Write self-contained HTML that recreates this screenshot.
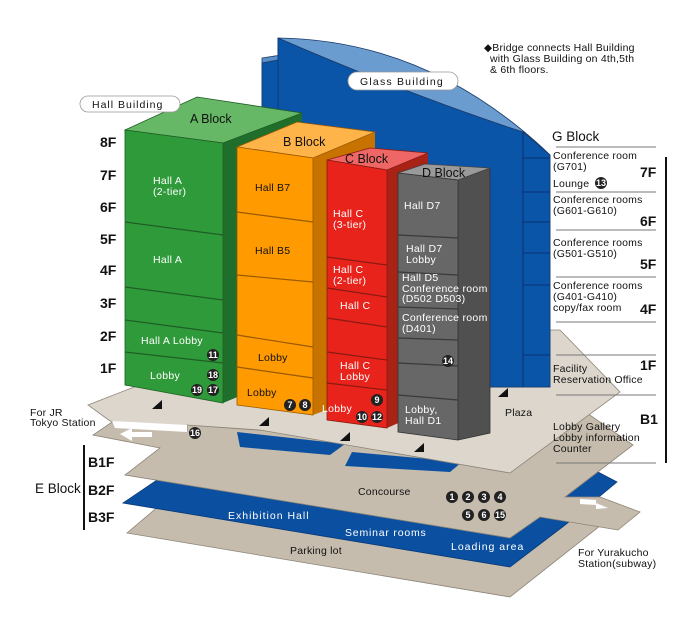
<!DOCTYPE html>
<html><head><meta charset="utf-8"><style>
html,body{margin:0;padding:0;background:#fff;}
svg{display:block;font-family:"Liberation Sans",sans-serif;}
.w{fill:#fff;font-size:10.5px;letter-spacing:0.3px}
.k{fill:#111;font-size:10.5px;letter-spacing:0.2px}
.f{fill:#111;font-size:14px;font-weight:bold}
.bl{fill:#111;font-size:13px}
.c{fill:#222}
.ct{fill:#fff;font-size:9px;font-weight:bold;text-anchor:middle}
</style></head><body>
<svg width="700" height="618" viewBox="0 0 700 618" xmlns="http://www.w3.org/2000/svg">
<!-- basement layers -->
<polygon points="127,533 160,505 600,505 605,522 510,597" fill="#c6bcae" stroke="#8c8476" stroke-width="0.8"/>
<polygon points="123,503 160,478 598,472 617,482 565,525 510,567" fill="#0b50a0" stroke="#083a78" stroke-width="0.8"/>
<polygon points="115,420 187,425 400,440 587,413 633,445 565,497 600,497 640,512 618,530 540,517 510,538 125,475 160,448 93,435" fill="#c6bcae" stroke="#8c8476" stroke-width="0.8"/>
<polygon points="237,432 345,444 330,455 240,447" fill="#0b50a0"/>
<polygon points="352,452 462,462 450,472 345,466" fill="#0b50a0"/>
<!-- plaza -->
<polygon points="88,405 280,330 560,330 620,392 510,473 260,430 187,425 187,431 110,421" fill="#dcd6cc" stroke="#8c8476" stroke-width="0.8"/>
<polygon points="112,421 187,425 187,432 115,428" fill="#fff"/>
<!-- arrows -->
<polygon points="120,434 132,428 132,432 152,432 152,437 132,437 132,441" fill="#fff"/>
<polygon points="608,508 596,503 596,500 580,499 580,504 596,505 596,509" fill="#fff"/>
<!-- glass building -->
<path d="M262,58 Q420,30 550,155 L550,387 L262,387 Z" fill="#5a8fc8" stroke="#1a3a6a" stroke-width="0.8"/>
<path d="M278,38 Q410,95 523,132 L550,155 L550,387 L262,387 L262,63 L278,60 Z" fill="#0b55a8" stroke="#1a3a6a" stroke-width="0.8"/>
<path d="M278,38 Q430,40 550,155 L523,132 Q410,95 278,38 Z" fill="#6a9cd0" stroke="#1a3a6a" stroke-width="0.8"/>
<line x1="278" y1="38" x2="278" y2="387" stroke="#0a3a80" stroke-width="1"/>
<line x1="523" y1="132" x2="523" y2="387" stroke="#0a3070" stroke-width="1"/>
<g stroke="#0a3070" stroke-width="1">
<line x1="523" y1="158" x2="550" y2="158"/><line x1="523" y1="192" x2="550" y2="192"/>
<line x1="523" y1="222" x2="550" y2="222"/><line x1="523" y1="253" x2="550" y2="253"/>
<line x1="523" y1="285" x2="550" y2="285"/><line x1="523" y1="355" x2="550" y2="355"/>
</g>
<rect x="348" y="72" width="110" height="18" rx="9" fill="#fff" stroke="#999" stroke-width="0.8"/>
<text x="360" y="85" class="k" style="letter-spacing:1.2px">Glass Building</text>
<!-- A block -->
<polygon points="223,143 302,113 302,370 223,403" fill="#1f6e2b"/>
<polygon points="125,130 197,97 302,113 223,143" fill="#66b866" stroke="#1f5e25" stroke-width="0.8"/>
<polygon points="125,130 223,143 223,403 125,385" fill="#2f9a3a" stroke="#1f5e25" stroke-width="0.8"/>
<g stroke="#1f5e25" stroke-width="1.2">
<line x1="125" y1="222" x2="223" y2="235"/><line x1="125" y1="287" x2="223" y2="300"/>
<line x1="125" y1="320" x2="223" y2="333"/><line x1="125" y1="352" x2="223" y2="363"/>
</g>
<text x="190" y="123" class="bl" style="font-size:12.5px">A Block</text>
<rect x="80" y="96" width="100" height="16" rx="8" fill="#fff" stroke="#999" stroke-width="0.8"/>
<text x="92" y="108" class="k" style="letter-spacing:1px">Hall Building</text>
<text x="153" y="184" class="w">Hall A</text><text x="153" y="195" class="w">(2-tier)</text>
<text x="153" y="263" class="w">Hall A</text>
<text x="141" y="344" class="w">Hall A Lobby</text>
<text x="150" y="379" class="w">Lobby</text>
<!-- B block -->
<polygon points="313,158 375,132 375,392 313,415" fill="#c87300"/>
<polygon points="237,147 297,122 375,132 313,158" fill="#ffb44a" stroke="#9a5a00" stroke-width="0.8"/>
<polygon points="237,147 313,158 313,415 237,405" fill="#ff9a00" stroke="#9a5a00" stroke-width="0.8"/>
<g stroke="#9a5a00" stroke-width="1.2">
<line x1="237" y1="212" x2="313" y2="222"/><line x1="237" y1="275" x2="313" y2="282"/>
<line x1="237" y1="335" x2="313" y2="347"/><line x1="237" y1="367" x2="313" y2="378"/>
</g>
<text x="283" y="146" class="bl" style="font-size:12.5px">B Block</text>
<text x="255" y="191" class="k">Hall B7</text>
<text x="255" y="254" class="k">Hall B5</text>
<text x="258" y="361" class="k">Lobby</text>
<text x="247" y="396" class="k">Lobby</text>
<!-- C block -->
<polygon points="387,170 428,153 428,410 387,428" fill="#a82216"/>
<polygon points="327,160 370,148 428,153 387,170" fill="#ee6666" stroke="#8a1a10" stroke-width="0.8"/>
<polygon points="327,160 387,170 387,428 327,420" fill="#e8231c" stroke="#8a1a10" stroke-width="0.8"/>
<g stroke="#8a1a10" stroke-width="1.2">
<line x1="327" y1="257" x2="387" y2="265"/><line x1="327" y1="288" x2="387" y2="297"/>
<line x1="327" y1="318" x2="387" y2="327"/><line x1="327" y1="352" x2="387" y2="360"/>
<line x1="327" y1="383" x2="387" y2="390"/>
</g>
<text x="345" y="163" class="bl" style="font-size:12.5px">C Block</text>
<text x="333" y="217" class="w">Hall C</text><text x="333" y="228" class="w">(3-tier)</text>
<text x="333" y="273" class="w">Hall C</text><text x="333" y="284" class="w">(2-tier)</text>
<text x="340" y="309" class="w">Hall C</text>
<text x="340" y="369" class="w">Hall C</text><text x="340" y="380" class="w">Lobby</text>
<text x="322" y="412" class="w">Lobby</text>
<!-- D block -->
<polygon points="458,180 490,168 490,433 458,440" fill="#505050" stroke="#333" stroke-width="0.8"/>
<polygon points="398,173 425,164 490,168 458,180" fill="#9a9a9a" stroke="#444" stroke-width="0.8"/>
<polygon points="398,173 458,180 458,440 398,432" fill="#676767" stroke="#333" stroke-width="0.8"/>
<g stroke="#3a3a3a" stroke-width="1.2">
<line x1="398" y1="235" x2="458" y2="238"/><line x1="398" y1="272" x2="458" y2="275"/>
<line x1="398" y1="307" x2="458" y2="309"/><line x1="398" y1="338" x2="458" y2="340"/>
<line x1="398" y1="363" x2="458" y2="366"/><line x1="398" y1="395" x2="458" y2="400"/>
</g>
<text x="422" y="177" class="bl" style="font-size:12.5px">D Block</text>
<text x="404" y="209" class="w">Hall D7</text>
<text x="406" y="252" class="w">Hall D7</text><text x="406" y="263" class="w">Lobby</text>
<text x="402" y="281" class="w">Hall D5</text>
<text x="402" y="292" class="w">Conference room</text>
<text x="402" y="302" class="w">(D502 D503)</text>
<text x="402" y="321" class="w">Conference room</text>
<text x="402" y="332" class="w">(D401)</text>
<text x="405" y="413" class="w">Lobby,</text><text x="405" y="424" class="w">Hall D1</text>
<!-- circles -->
<g>
<circle cx="213" cy="355" r="6" class="c"/><text x="213" y="358" class="ct">11</text>
<circle cx="213" cy="375" r="6" class="c"/><text x="213" y="378" class="ct">18</text>
<circle cx="197" cy="390" r="6" class="c"/><text x="197" y="393" class="ct">19</text>
<circle cx="213" cy="390" r="6" class="c"/><text x="213" y="393" class="ct">17</text>
<circle cx="290" cy="405" r="6" class="c"/><text x="290" y="408" class="ct">7</text>
<circle cx="305" cy="405" r="6" class="c"/><text x="305" y="408" class="ct">8</text>
<circle cx="377" cy="400" r="6" class="c"/><text x="377" y="403" class="ct">9</text>
<circle cx="362" cy="417" r="6" class="c"/><text x="362" y="420" class="ct">10</text>
<circle cx="377" cy="417" r="6" class="c"/><text x="377" y="420" class="ct">12</text>
<circle cx="448" cy="361" r="6" class="c"/><text x="448" y="364" class="ct">14</text>
<circle cx="195" cy="433" r="6" class="c"/><text x="195" y="436" class="ct">16</text>
<circle cx="601" cy="183" r="6" class="c"/><text x="601" y="186" class="ct">13</text>
<circle cx="452" cy="497" r="6" class="c"/><text x="452" y="500" class="ct">1</text>
<circle cx="468" cy="497" r="6" class="c"/><text x="468" y="500" class="ct">2</text>
<circle cx="484" cy="497" r="6" class="c"/><text x="484" y="500" class="ct">3</text>
<circle cx="500" cy="497" r="6" class="c"/><text x="500" y="500" class="ct">4</text>
<circle cx="468" cy="515" r="6" class="c"/><text x="468" y="518" class="ct">5</text>
<circle cx="484" cy="515" r="6" class="c"/><text x="484" y="518" class="ct">6</text>
<circle cx="500" cy="515" r="6" class="c"/><text x="500" y="518" class="ct">15</text>
</g>
<!-- arrowheads -->
<g fill="#111">
<polygon points="152,409 162,409 162,400"/><polygon points="259,426 269,426 269,417"/>
<polygon points="340,441 350,441 350,432"/><polygon points="414,452 424,452 424,443"/>
<polygon points="498,397 508,397 508,388"/>
</g>
<!-- floor labels -->
<text x="100" y="147" class="f">8F</text><text x="100" y="180" class="f">7F</text>
<text x="100" y="212" class="f">6F</text><text x="100" y="244" class="f">5F</text>
<text x="100" y="275" class="f">4F</text><text x="100" y="308" class="f">3F</text>
<text x="100" y="341" class="f">2F</text><text x="100" y="373" class="f">1F</text>
<!-- G block legend -->
<text x="552" y="141" class="bl" style="font-size:13.5px">G Block</text>
<g stroke="#777" stroke-width="1">
<line x1="556" y1="147" x2="656" y2="147"/><line x1="556" y1="192" x2="656" y2="192"/>
<line x1="556" y1="230" x2="656" y2="230"/><line x1="556" y1="277" x2="656" y2="277"/>
<line x1="556" y1="322" x2="656" y2="322"/><line x1="556" y1="355" x2="656" y2="355"/>
<line x1="556" y1="395" x2="656" y2="395"/><line x1="556" y1="463" x2="656" y2="463"/>
</g>
<line x1="666" y1="157" x2="666" y2="463" stroke="#111" stroke-width="2"/>
<text x="553" y="159" class="k">Conference room</text><text x="553" y="170" class="k">(G701)</text>
<text x="553" y="187" class="k">Lounge</text>
<text x="640" y="177" class="f">7F</text>
<text x="553" y="203" class="k">Conference rooms</text><text x="553" y="214" class="k">(G601-G610)</text>
<text x="640" y="226" class="f">6F</text>
<text x="553" y="246" class="k">Conference rooms</text><text x="553" y="257" class="k">(G501-G510)</text>
<text x="640" y="269" class="f">5F</text>
<text x="553" y="289" class="k">Conference rooms</text><text x="553" y="300" class="k">(G401-G410)</text>
<text x="553" y="311" class="k">copy/fax room</text>
<text x="640" y="314" class="f">4F</text>
<text x="553" y="372" class="k">Facility</text><text x="553" y="383" class="k">Reservation Office</text>
<text x="640" y="370" class="f">1F</text>
<text x="640" y="424" class="f">B1</text>
<text x="553" y="430" class="k">Lobby Gallery</text><text x="553" y="441" class="k">Lobby information</text>
<text x="553" y="452" class="k">Counter</text>
<!-- notes -->
<text x="484" y="51" class="k">◆Bridge connects Hall Building</text>
<text x="490" y="62" class="k">with Glass Building on 4th,5th</text>
<text x="490" y="73" class="k">&amp; 6th floors.</text>
<text x="30" y="416" class="k">For JR</text><text x="30" y="426" class="k">Tokyo Station</text>
<text x="505" y="416" class="k">Plaza</text>
<text x="578" y="556" class="k">For Yurakucho</text><text x="578" y="567" class="k">Station(subway)</text>
<!-- E block -->
<text x="35" y="493" class="bl" style="font-size:13.5px">E Block</text>
<line x1="84" y1="445" x2="84" y2="530" stroke="#111" stroke-width="2"/>
<text x="88" y="467" class="f">B1F</text><text x="88" y="495" class="f">B2F</text><text x="88" y="522" class="f">B3F</text>
<text x="358" y="495" class="k">Concourse</text>
<text x="228" y="519" class="w" style="letter-spacing:1px">Exhibition Hall</text>
<text x="345" y="536" class="w" style="letter-spacing:0.8px">Seminar rooms</text>
<text x="451" y="550" class="w" style="letter-spacing:1px">Loading area</text>
<text x="290" y="554" class="k">Parking lot</text>
</svg>
</body></html>
